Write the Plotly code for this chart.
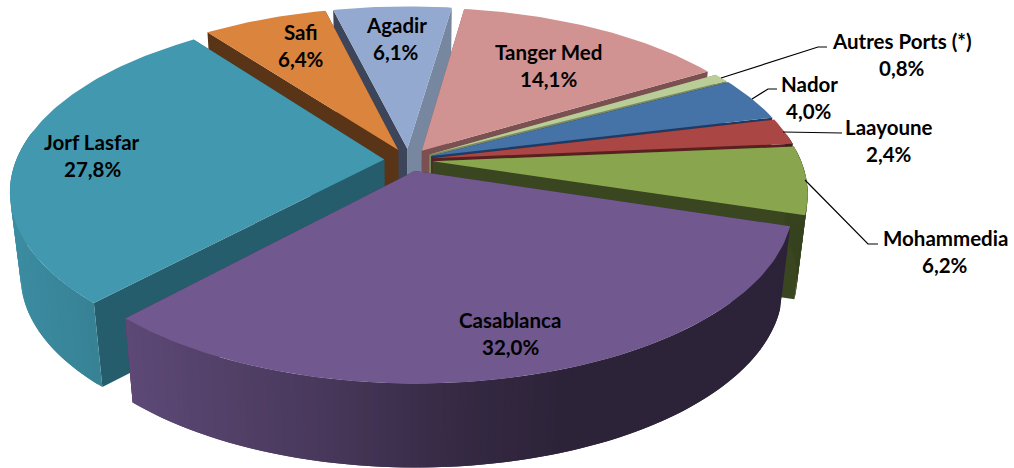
import numpy as np
import plotly.graph_objects as go

# ---- data (clockwise from the right edge of Agadir) ----
categories = ["Tanger Med", "Autres Ports (*)", "Nador", "Laayoune", "Mohammedia",
              "Casablanca", "Jorf Lasfar", "Safi", "Agadir"]
values = [14.1, 0.8, 4.0, 2.4, 6.2, 32.0, 27.8, 6.4, 6.1]

# ---- styles ----
top_colors = ["#D19392", "#B9CD96", "#4572A7", "#AA4643", "#89A54E",
              "#71588F", "#4198AF", "#DB843D", "#93A9CF"]
cut_colors = [("#7A5050", "#7A5050"), ("#7C8A62", "#7C8A62"), ("#1F3A63", "#1F3A63"),
              ("#5A2020", "#5A2020"), ("#3A4620", "#3A4620"), ("#3A2E4C", "#3A2E4C"),
              ("#265D6C", "#265D6C"), ("#5A3416", "#5A3416"), ("#3C4559", "#76879F")]
label_xy = [(548, 52), (902, 41), (809, 84), (889, 127), (945, 238),
            (510, 320), (92, 142), (301, 32), (396, 25)]
leaders = {
    "Autres Ports (*)": ([721, 818, 827], [78, 47, 47]),
    "Nador": ([752, 768, 777], [99, 89, 89]),
    "Laayoune": ([783, 842], [132, 133]),
    "Mohammedia": ([805, 868, 878], [180, 244, 244]),
}

# ---- projection of the tilted disc ----
CX, CY = 408.5, 160.0
A, B, P = 368.0, 171.0, 0.175
PULL = 0.066
DEPTH = 84.0
CONVERGE = 0.973
CASABLANCA_START_DEG = 107.4


def project(dx, dy):
    s = 1.0 / (1.0 - P * dy)
    return CX + A * dx * s, CY + B * dy * s


def drop(x, y):
    return CX + (np.asarray(x) - CX) * CONVERGE, np.asarray(y) + DEPTH


def shade(hex_color, f):
    r, g, b = (int(hex_color[i:i + 2], 16) for i in (1, 3, 5))
    return f"rgb({r * f:.0f},{g * f:.0f},{b * f:.0f})"


def wall_factor(x):
    return float(np.interp(x, [10, 130, 300, 460, 560, 820],
                           [0.92, 0.82, 0.66, 0.47, 0.40, 0.40]))


fig = go.Figure()


def poly(xs, ys, color):
    fig.add_trace(go.Scatter(
        x=list(xs), y=list(ys), mode="lines", fill="toself", fillcolor=color,
        line=dict(color=color, width=0), hoverinfo="skip", showlegend=False))


total = sum(values)
sweeps = [v / total * 360.0 for v in values]
start0 = CASABLANCA_START_DEG - sum(sweeps[:5])
starts = start0 + np.concatenate([[0], np.cumsum(sweeps)[:-1]])
mids = starts + np.array(sweeps) / 2
order = np.argsort(-np.cos(np.radians(mids)))

for i in order:
    a0 = np.radians(starts[i])
    a1 = np.radians(starts[i] + sweeps[i])
    am = np.radians(mids[i])
    ox, oy = PULL * np.sin(am), -PULL * np.cos(am)
    n = max(3, int(sweeps[i] / 1.0))
    th = np.linspace(a0, a1, n + 1)
    ax, ay = project(ox, oy)
    px, py = project(ox + np.sin(th), oy - np.cos(th))
    bax, bay = drop(ax, ay)
    bpx, bpy = drop(px, py)
    # radial cut faces
    poly([ax, px[-1], bpx[-1], bax], [ay, py[-1], bpy[-1], bay], cut_colors[i][1])
    poly([ax, px[0], bpx[0], bax], [ay, py[0], bpy[0], bay], cut_colors[i][0])
    # outer wall: each strip reaches over the next so that no seam shows
    for k in range(n):
        e = min(k + 2, n)
        if np.cos((th[k] + th[k + 1]) / 2) < 0.15:
            col = shade(top_colors[i], wall_factor((px[k] + px[k + 1]) / 2))
            sx = np.r_[px[k:e + 1], bpx[k:e + 1][::-1]]
            sy = np.r_[py[k:e + 1], bpy[k:e + 1][::-1]]
            poly(sx, sy, col)
    # top face
    poly(np.r_[ax, px], np.r_[ay, py], top_colors[i])

for name, (lx, ly) in leaders.items():
    fig.add_trace(go.Scatter(x=lx, y=ly, mode="lines", line=dict(color="#000000", width=1.2),
                             hoverinfo="skip", showlegend=False))

annotations = []
FONT = dict(family="Lato, Carlito, Calibri, sans-serif", size=20.5, color="#000000", weight="bold")
for name, v, (x, y) in zip(categories, values, label_xy):
    pct = f"{v:.1f}%".replace(".", ",")
    for text, yy in ((f"<b>{name}</b>", y), (f"<b>{pct}</b>", y + 27)):
        annotations.append(dict(x=x, y=yy, text=text, showarrow=False, xref="x", yref="y",
                                xanchor="center", yanchor="middle", font=FONT))

fig.update_layout(
    width=1014, height=468, margin=dict(l=0, r=0, t=0, b=0),
    paper_bgcolor="#FFFFFF", plot_bgcolor="#FFFFFF", showlegend=False,
    xaxis=dict(range=[0, 1014], visible=False, fixedrange=True),
    yaxis=dict(range=[468, 0], visible=False, fixedrange=True),
    annotations=annotations,
)
fig.write_html("out.html", config={"displayModeBar": False},
               post_script="document.body.style.margin='0';")
